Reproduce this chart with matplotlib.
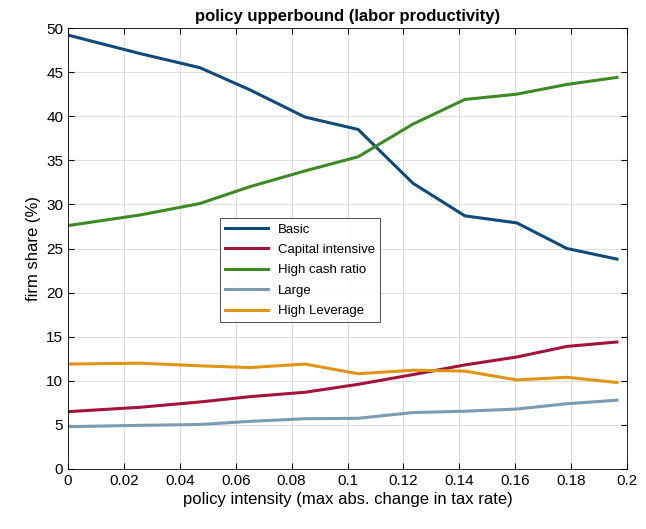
import matplotlib
matplotlib.use('Agg')
import matplotlib.pyplot as plt

plt.rcParams['font.family'] = ['Liberation Sans', 'DejaVu Sans']

x = [0, 0.0258, 0.0472, 0.065, 0.0848, 0.1038, 0.1234, 0.142, 0.1606, 0.1785, 0.1964]
basic = [49.2, 47.1, 45.5, 43.0, 39.9, 38.5, 32.4, 28.7, 27.9, 25.0, 23.8]
capital = [6.5, 7.0, 7.6, 8.2, 8.7, 9.6, 10.7, 11.8, 12.7, 13.9, 14.4]
cash = [27.6, 28.8, 30.1, 32.0, 33.8, 35.4, 39.1, 41.9, 42.5, 43.6, 44.4]
large = [4.8, 4.95, 5.05, 5.4, 5.7, 5.75, 6.4, 6.55, 6.8, 7.4, 7.8]
leverage = [11.9, 12.0, 11.7, 11.5, 11.9, 10.8, 11.2, 11.1, 10.1, 10.4, 9.8]

series = [('Basic', basic, '#0e4a7a'),
          ('Capital intensive', capital, '#a3143a'),
          ('High cash ratio', cash, '#3c8a23'),
          ('Large', large, '#7a9cb3'),
          ('High Leverage', leverage, '#e09414')]

fig = plt.figure(figsize=(6.46, 5.29), dpi=100)
ax = fig.add_axes([68/646, 1-469/529, (627-68)/646, (469-28)/529])
for name, y, c in series:
    ax.plot(x, y, color=c, lw=2.2, label=name)

ax.set_xlim(0, 0.2)
ax.set_ylim(0, 50)
ax.set_xticks([0, 0.02, 0.04, 0.06, 0.08, 0.1, 0.12, 0.14, 0.16, 0.18, 0.2])
ax.set_xticklabels(['0', '0.02', '0.04', '0.06', '0.08', '0.1', '0.12', '0.14', '0.16', '0.18', '0.2'])
ax.set_yticks(range(0, 51, 5))
ax.grid(True, color='#dcdcdc', lw=0.7)
ax.tick_params(direction='in', labelsize=11, top=True, right=True, length=4)
for s in ax.spines.values():
    s.set_linewidth(0.6)
ax.set_xlabel('policy intensity (max abs. change in tax rate)', fontsize=12, labelpad=3)
ax.set_ylabel('firm share (%)', fontsize=12)
ax.set_title('policy upperbound (labor productivity)', fontsize=12, fontweight='bold', pad=5)
leg = ax.legend(loc='upper left', bbox_to_anchor=((220-68)/559, 1-(218-28)/441),
                fontsize=9.5, frameon=True, fancybox=False, edgecolor='black',
                handlelength=3.2, borderpad=0.4, labelspacing=0.62, borderaxespad=0)
leg.get_frame().set_linewidth(0.6)
fig.savefig('out.png', dpi=100)
